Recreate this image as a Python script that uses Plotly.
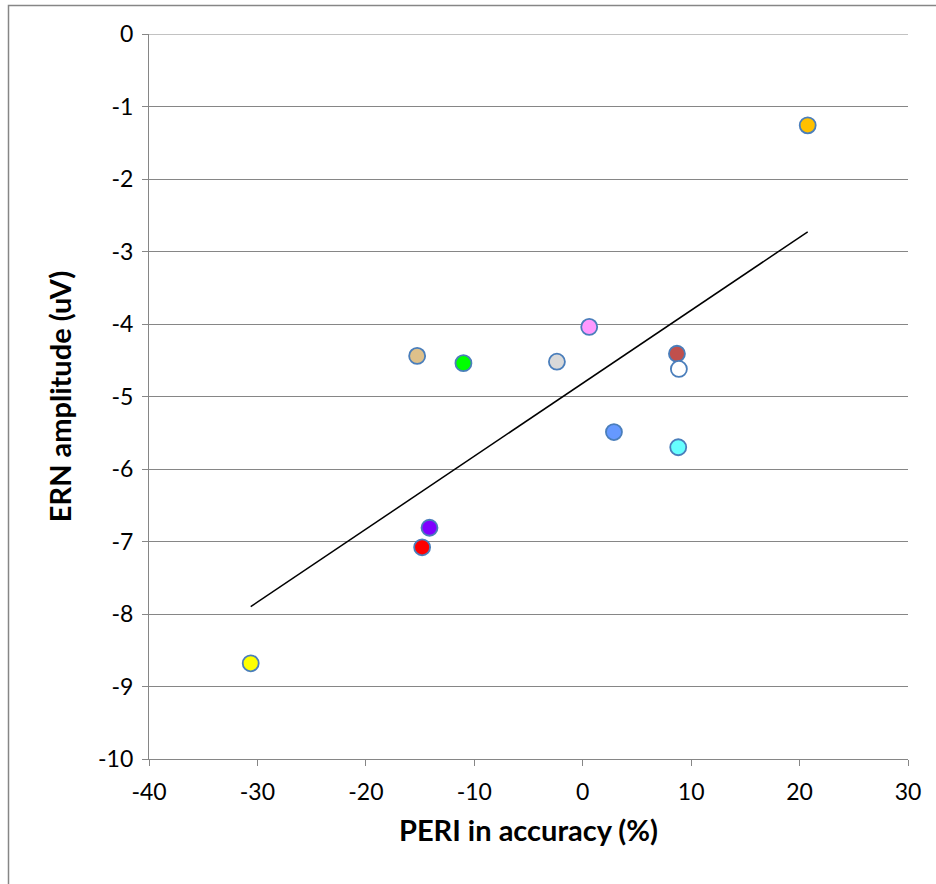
import numpy as np
import plotly.graph_objects as go

# Data
peri_accuracy = [-15.27, -11.0, -2.38, 0.6, 8.69, 8.87, 2.88, 8.81, -14.13, -14.81, -30.62, 20.75]
ern_amplitude = [-4.44, -4.54, -4.52, -4.04, -4.41, -4.62, -5.49, -5.70, -6.81, -7.08, -8.68, -1.26]
point_colors = ["#DEC08A", "#00FF00", "#D9D9D9", "#FF99FF", "#C0504D", "#FFFFFF",
                "#6699FF", "#66FFFF", "#8000FF", "#FF0000", "#FFFF00", "#FFC000"]
x_ticks = [-40, -30, -20, -10, 0, 10, 20, 30]
y_ticks = [0, -1, -2, -3, -4, -5, -6, -7, -8, -9, -10]

# Linear trendline (least squares) from the data
slope, intercept = np.polyfit(peri_accuracy, ern_amplitude, 1)
tx = [min(peri_accuracy), max(peri_accuracy)]
ty = [slope * v + intercept for v in tx]

fig = go.Figure()
fig.add_trace(go.Scatter(x=tx, y=ty, mode="lines",
                         line=dict(color="black", width=1.5),
                         hoverinfo="skip", showlegend=False))
fig.add_trace(go.Scatter(x=peri_accuracy, y=ern_amplitude, mode="markers",
                         marker=dict(size=16, color=point_colors,
                                     line=dict(color="#4A7EBB", width=1.8)),
                         showlegend=False))

L, R, T, B = 149, 28, 34, 125
W, H = 936, 884
pw, ph = W - L - R, H - T - B

def px_x(p):
    return (p - L) / pw

def px_y(p):
    return (H - B - p) / ph

# outer chart frame
fig.add_shape(type="rect", xref="paper", yref="paper",
              x0=px_x(8.5), x1=px_x(W + 10), y0=px_y(H + 10), y1=px_y(5.5),
              line=dict(color="#868686", width=1.5), fillcolor="rgba(0,0,0,0)",
              layer="below")
# top gridline at y = 0
fig.add_shape(type="line", xref="paper", yref="y", x0=0, x1=1, y0=0, y1=0,
              line=dict(color="#868686", width=1.2), layer="below")

axis_common = dict(showline=True, linecolor="#868686", linewidth=1.2,
                   ticks="outside", ticklen=6, tickcolor="#868686", tickwidth=1.2,
                   zeroline=False, tickfont=dict(family="Lato", size=23, color="black"))

fig.update_layout(
    width=W, height=H,
    margin=dict(l=L, r=R, t=T, b=B),
    plot_bgcolor="white", paper_bgcolor="white",
    font=dict(family="Lato", color="black"),
    xaxis=dict(range=[-40, 30], tickvals=x_ticks, ticktext=[str(v) for v in x_ticks],
               showgrid=False, mirror=False, ticklabelstandoff=6,
               title=dict(text="<b>PERI in accuracy (%)</b>", font=dict(family="Lato", size=29),
                          standoff=16),
               **axis_common),
    yaxis=dict(range=[-10, 0], tickvals=y_ticks, ticktext=[str(v) for v in y_ticks],
               showgrid=True, gridcolor="#868686", gridwidth=1.2, ticklabelstandoff=4,
               title=dict(text="<b>ERN amplitude (uV)</b>", font=dict(family="Lato", size=29),
                          standoff=17),
               **axis_common),
)

fig.write_html("out.html")
